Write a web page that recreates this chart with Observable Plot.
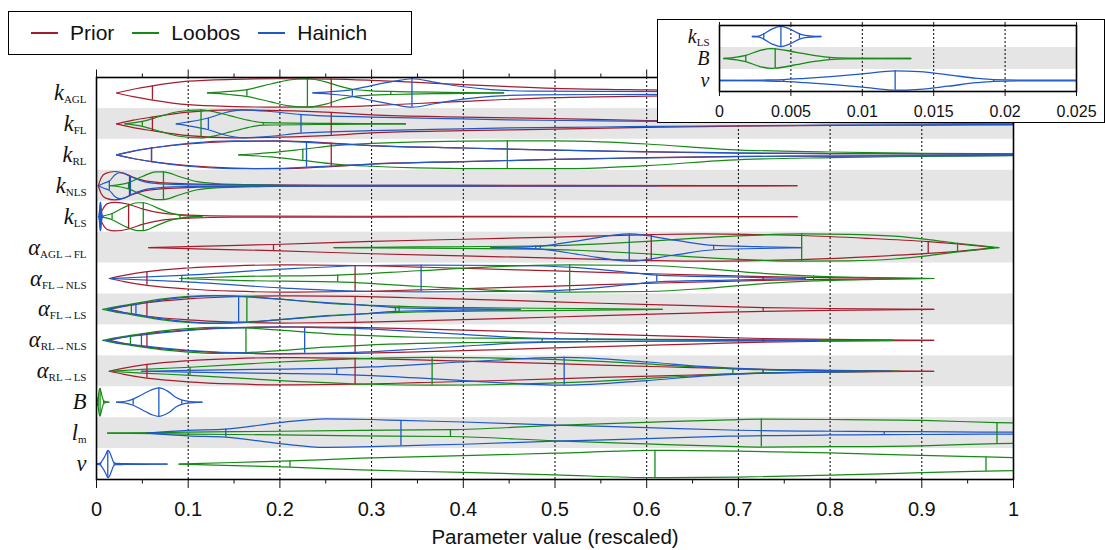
<!DOCTYPE html>
<html><head><meta charset="utf-8">
<script src="https://cdn.jsdelivr.net/npm/d3@7"></script>
<script src="https://cdn.jsdelivr.net/npm/@observablehq/plot@0.6"></script>
<style>
body{margin:0;background:#fff;}
#wrap{position:relative;width:1105px;height:550px;overflow:hidden;font-family:"Liberation Sans",Arial,sans-serif;background:#fff;}
#wrap svg{position:absolute;}
#legend{position:absolute;left:8px;top:11px;width:404px;height:44px;border:1.5px solid #000;box-sizing:border-box;background:#fff;display:flex;align-items:center;padding-left:22px;gap:18px;}
.item{display:flex;align-items:center;gap:12px;font-size:21px;color:#111;}
.swatch{width:27px;height:1.6px;}
#insetBox{position:absolute;left:657px;top:19px;width:448px;height:104px;border:1.5px solid #000;box-sizing:border-box;background:#fff;}
</style></head><body><div id="wrap"><div id="legend"></div><div id="insetBox"></div></div>
<script>
// ---------- rows / labels ----------
const rowKeys = ["kAGL","kFL","kRL","kNLS","kLS","aAGLFL","aFLNLS","aFLLS","aRLNLS","aRLLS","B","lm","v"];
const rowMain = ["k","k","k","k","k","α","α","α","α","α","B","l","v"];
const rowSub  = ["AGL","FL","RL","NLS","LS","AGL→FL","FL→NLS","FL→LS","RL→NLS","RL→LS","","m",""];
const xTicks = [0,0.1,0.2,0.3,0.4,0.5,0.6,0.7,0.8,0.9,1];
const xTickLabels = ["0","0.1","0.2","0.3","0.4","0.5","0.6","0.7","0.8","0.9","1"];
const xMinor = [0.05,0.15,0.25,0.35,0.45,0.55,0.65,0.75,0.85,0.95];
const gridTicks = [0.1,0.2,0.3,0.4,0.5,0.6,0.7,0.8,0.9];
const insetRows = ["kLS","B","v"];
const insetTicks = [0,0.005,0.01,0.015,0.02,0.025];
const insetTickLabels = ["0","0.005","0.01","0.015","0.02","0.025"];
const insetGrid = [0.005,0.01,0.015,0.02];
const insetPicks = [["Hainich","kLS"],["Loobos","B"],["Hainich","v"]];
const seriesNames = ["Prior","Loobos","Hainich"];
const seriesColors = ["#a51d2d","#158a15","#1f58c8"];
const axisTitle = "Parameter value (rescaled)";

// ---------- violin profiles: [value, half-width in row units], q = marked quantiles ----------
const priorAlphaProfile = [[0.014,0],[0.03,0.1],[0.055,0.22],[0.1,0.34],[0.15,0.41],[0.2,0.44],[0.282,0.42],[0.35,0.37],[0.45,0.29],[0.55,0.2],[0.65,0.12],[0.727,0.06],[0.8,0.03],[0.913,0]];
const prior = [
  {row:"kAGL", q:[0.061,0.256], pts:[[0.022,0],[0.04,0.12],[0.061,0.23],[0.1,0.38],[0.15,0.44],[0.2,0.46],[0.256,0.45],[0.3,0.41],[0.35,0.34],[0.4,0.27],[0.5,0.15],[0.6,0.1],[0.7,0.07],[0.8,0.05],[0.9,0.03],[1,0.02]]},
  {row:"kFL", q:[0.061,0.256], pts:[[0.022,0],[0.04,0.12],[0.061,0.22],[0.1,0.38],[0.15,0.45],[0.2,0.43],[0.256,0.37],[0.3,0.29],[0.4,0.22],[0.5,0.17],[0.6,0.11],[0.7,0.07],[0.8,0.05],[0.9,0.04],[1,0.03]]},
  {row:"kRL", q:[0.06,0.256], pts:[[0.022,0],[0.04,0.12],[0.06,0.22],[0.1,0.35],[0.15,0.43],[0.2,0.45],[0.256,0.38],[0.3,0.3],[0.4,0.22],[0.5,0.15],[0.6,0.09],[0.7,0.05],[0.8,0.04],[0.9,0.03],[1,0.02]]},
  {row:"kNLS", q:[0.036], pts:[[0.002,0],[0.005,0.25],[0.01,0.4],[0.02,0.46],[0.03,0.4],[0.038,0.3],[0.05,0.18],[0.07,0.1],[0.1,0.06],[0.15,0.03],[0.25,0.015],[0.5,0.01],[0.764,0]]},
  {row:"kLS", q:[0.035], pts:[[0.003,0],[0.006,0.2],[0.012,0.42],[0.02,0.46],[0.035,0.4],[0.05,0.25],[0.07,0.12],[0.1,0.05],[0.15,0.02],[0.4,0.01],[0.764,0]]},
  {row:"aAGLFL", q:[0.193,0.605,0.907], pts:[[0.057,0],[0.12,0.05],[0.193,0.1],[0.3,0.2],[0.4,0.27],[0.5,0.34],[0.605,0.42],[0.66,0.44],[0.72,0.42],[0.769,0.39],[0.84,0.3],[0.907,0.19],[0.95,0.09],[0.978,0]]},
  {row:"aFLNLS", q:[0.055,0.282,0.727], pts:priorAlphaProfile},
  {row:"aFLLS", q:[0.055,0.282,0.727], pts:priorAlphaProfile},
  {row:"aRLNLS", q:[0.055,0.282,0.727], pts:priorAlphaProfile},
  {row:"aRLLS", q:[0.055,0.282,0.727], pts:priorAlphaProfile}
];
const loobos = [
  {row:"kAGL", q:[0.164,0.23,0.321], pts:[[0.121,0],[0.145,0.05],[0.164,0.11],[0.19,0.29],[0.21,0.42],[0.23,0.46],[0.25,0.36],[0.265,0.22],[0.279,0.12],[0.3,0.07],[0.321,0.05],[0.38,0.02],[0.444,0]]},
  {row:"kFL", q:[0.05,0.114,0.182], pts:[[0.031,0],[0.05,0.08],[0.07,0.25],[0.09,0.4],[0.114,0.45],[0.13,0.38],[0.146,0.26],[0.165,0.12],[0.182,0.04],[0.26,0.015],[0.337,0]]},
  {row:"kRL", q:[0.225,0.448], pts:[[0.155,0],[0.19,0.07],[0.225,0.18],[0.26,0.3],[0.3,0.37],[0.35,0.42],[0.448,0.45],[0.5,0.45],[0.55,0.42],[0.6,0.35],[0.69,0.17],[0.8,0.09],[0.9,0.05],[1,0.03]]},
  {row:"kNLS", q:[0.035,0.073], pts:[[0.015,0],[0.035,0.1],[0.05,0.3],[0.065,0.45],[0.073,0.45],[0.09,0.3],[0.11,0.13],[0.13,0.07],[0.16,0.04],[0.222,0]]},
  {row:"kLS", q:[0.017,0.051,0.091], pts:[[0.004,0],[0.017,0.1],[0.03,0.3],[0.045,0.45],[0.051,0.45],[0.065,0.3],[0.08,0.12],[0.091,0.05],[0.115,0]]},
  {row:"aAGLFL", q:[0.479,0.769,0.939], pts:[[0.259,0],[0.35,0.02],[0.479,0.05],[0.55,0.12],[0.6,0.2],[0.65,0.3],[0.7,0.38],[0.769,0.44],[0.82,0.43],[0.87,0.37],[0.91,0.25],[0.939,0.14],[0.965,0.06],[0.984,0]]},
  {row:"aFLNLS", q:[0.263,0.516,0.782], pts:[[0.091,0],[0.15,0.06],[0.263,0.11],[0.35,0.25],[0.45,0.4],[0.516,0.44],[0.6,0.42],[0.66,0.33],[0.72,0.18],[0.782,0.08],[0.85,0.03],[0.913,0]]},
  {row:"aFLLS", q:[0.038,0.164,0.33], pts:[[0.007,0],[0.02,0.08],[0.038,0.17],[0.07,0.33],[0.1,0.42],[0.13,0.45],[0.164,0.42],[0.2,0.33],[0.25,0.2],[0.3,0.13],[0.35,0.08],[0.43,0.05],[0.52,0.03],[0.617,0]]},
  {row:"aRLNLS", q:[0.037,0.163,0.486], pts:[[0.007,0],[0.02,0.08],[0.037,0.16],[0.07,0.3],[0.1,0.38],[0.13,0.42],[0.163,0.4],[0.2,0.33],[0.25,0.22],[0.29,0.16],[0.35,0.1],[0.42,0.07],[0.486,0.05],[0.6,0.03],[0.75,0.015],[0.869,0]]},
  {row:"aRLLS", q:[0.102,0.366,0.694], pts:[[0.014,0],[0.05,0.06],[0.102,0.13],[0.2,0.3],[0.3,0.42],[0.366,0.45],[0.45,0.42],[0.55,0.32],[0.62,0.2],[0.66,0.13],[0.694,0.08],[0.78,0.03],[0.876,0]]},
  {row:"B", q:[0.00184,0.0039,0.0077], pts:[[0.0003,0],[0.0012,0.06],[0.00184,0.14],[0.0028,0.36],[0.0036,0.45],[0.0039,0.44],[0.005,0.33],[0.0057,0.24],[0.0068,0.12],[0.0077,0.05],[0.009,0.02],[0.0134,0]]},
  {row:"lm", q:[0.386,0.725,0.982], pts:[[0.012,0],[0.1,0.03],[0.2,0.06],[0.288,0.09],[0.386,0.11],[0.5,0.25],[0.6,0.35],[0.69,0.43],[0.725,0.45],[0.8,0.44],[0.9,0.41],[0.982,0.34],[1,0.33]]},
  {row:"v", q:[0.211,0.609,0.97], pts:[[0.09,0],[0.15,0.05],[0.211,0.1],[0.288,0.19],[0.4,0.27],[0.5,0.35],[0.609,0.44],[0.7,0.42],[0.8,0.36],[0.9,0.28],[0.97,0.23],[1,0.21]]}
];
const hainich = [
  {row:"kAGL", q:[0.279,0.344], pts:[[0.236,0],[0.26,0.05],[0.279,0.11],[0.3,0.24],[0.325,0.38],[0.344,0.46],[0.37,0.34],[0.4,0.2],[0.43,0.11],[0.476,0.06],[0.55,0.05],[0.7,0.04],[0.85,0.03],[1,0.02]]},
  {row:"kFL", q:[0.122,0.223], pts:[[0.087,0],[0.1,0.06],[0.122,0.19],[0.14,0.36],[0.16,0.45],[0.19,0.4],[0.223,0.3],[0.3,0.22],[0.367,0.18],[0.45,0.13],[0.55,0.1],[0.615,0.08],[0.7,0.06],[0.8,0.04],[0.9,0.03],[1,0.02]]},
  {row:"kRL", q:[0.06,0.229], pts:[[0.022,0],[0.04,0.12],[0.06,0.22],[0.1,0.37],[0.15,0.45],[0.2,0.44],[0.229,0.4],[0.3,0.3],[0.4,0.22],[0.5,0.15],[0.6,0.1],[0.7,0.06],[0.8,0.04],[0.9,0.03],[1,0.02]]},
  {row:"kNLS", q:[0.014,0.037], pts:[[0.002,0],[0.008,0.08],[0.014,0.15],[0.02,0.35],[0.025,0.42],[0.03,0.4],[0.037,0.3],[0.05,0.15],[0.07,0.06],[0.1,0.03],[0.2,0.015],[0.4,0.01],[0.612,0]]},
  {row:"kLS", q:[0.0031,0.0043,0.0056], pts:[[0.0023,0],[0.0028,0.03],[0.0031,0.12],[0.0037,0.35],[0.0043,0.46],[0.0049,0.35],[0.0056,0.12],[0.006,0.05],[0.0071,0]]},
  {row:"aAGLFL", q:[0.484,0.581,0.673], pts:[[0.43,0],[0.484,0.05],[0.53,0.24],[0.581,0.44],[0.63,0.24],[0.673,0.07],[0.72,0.03],[0.769,0]]},
  {row:"aFLNLS", q:[0.093,0.354,0.611], pts:[[0.015,0],[0.093,0.1],[0.2,0.3],[0.3,0.42],[0.354,0.43],[0.45,0.42],[0.52,0.36],[0.58,0.2],[0.611,0.11],[0.69,0.05],[0.773,0]]},
  {row:"aFLLS", q:[0.043,0.155,0.326], pts:[[0.012,0],[0.025,0.08],[0.043,0.16],[0.07,0.3],[0.1,0.4],[0.13,0.44],[0.155,0.42],[0.2,0.33],[0.25,0.22],[0.288,0.15],[0.326,0.06],[0.4,0.02],[0.462,0]]},
  {row:"aRLNLS", q:[0.049,0.227,0.535], pts:[[0.011,0],[0.025,0.08],[0.049,0.17],[0.1,0.32],[0.15,0.4],[0.2,0.43],[0.227,0.42],[0.288,0.38],[0.35,0.28],[0.4,0.19],[0.45,0.1],[0.535,0.04],[0.65,0.02],[0.787,0]]},
  {row:"aRLLS", q:[0.262,0.51,0.727], pts:[[0.049,0],[0.1,0.03],[0.2,0.07],[0.262,0.1],[0.3,0.14],[0.4,0.3],[0.51,0.45],[0.6,0.3],[0.66,0.16],[0.727,0.06],[0.8,0.02],[0.867,0]]},
  {row:"B", q:[0.04,0.068,0.093], pts:[[0.022,0],[0.032,0.03],[0.04,0.1],[0.05,0.25],[0.06,0.4],[0.068,0.46],[0.078,0.35],[0.087,0.15],[0.093,0.07],[0.1,0.03],[0.115,0]]},
  {row:"lm", q:[0.141,0.332,0.859], pts:[[0.055,0],[0.1,0.09],[0.141,0.13],[0.2,0.34],[0.25,0.46],[0.3,0.44],[0.332,0.41],[0.4,0.36],[0.5,0.26],[0.6,0.18],[0.69,0.1],[0.8,0.06],[0.859,0.05],[0.93,0.04],[1,0.03]]},
  {row:"v", q:[0.0045,0.0123,0.0192], pts:[[0,0],[0.003,0.02],[0.0045,0.04],[0.006,0.1],[0.008,0.19],[0.01,0.3],[0.0123,0.44],[0.014,0.4],[0.016,0.26],[0.018,0.1],[0.0192,0.04],[0.021,0.02],[0.03,0.015],[0.05,0.01],[0.077,0]]}
];

// ---------- build mark data ----------
const allSeries = {Prior: prior, Loobos: loobos, Hainich: hainich};
function hwAt(pts, x) {
  if (x <= pts[0][0]) return pts[0][1];
  for (let i = 1; i < pts.length; i++) {
    if (x <= pts[i][0]) {
      const [x0, h0] = pts[i-1], [x1, h1] = pts[i];
      return h0 + (h1 - h0) * (x - x0) / (x1 - x0);
    }
  }
  return pts[pts.length-1][1];
}
function build(picks, rows) {
  const lines = [], ticks = [];
  picks.forEach(([s, v]) => {
    const r = rows.indexOf(v.row);
    if (r < 0) return;
    v.pts.forEach(([x, h]) => {
      lines.push({id: s + v.row + "t", series: s, x, y: r - h});
      lines.push({id: s + v.row + "b", series: s, x, y: r + h});
    });
    v.q.forEach(x => { const h = hwAt(v.pts, x); ticks.push({series: s, x, y1: r - h, y2: r + h}); });
  });
  lines.sort((a, b) => seriesNames.indexOf(a.series) - seriesNames.indexOf(b.series));
  return {lines, ticks};
}
const mainPicks = [];
seriesNames.forEach(s => allSeries[s].forEach(v => mainPicks.push([s, v])));
const mainData = build(mainPicks, rowKeys);
const insetData = build(insetPicks.map(([s, r]) => [s, allSeries[s].find(v => v.row === r)]), insetRows);

function styleLabels(svg, keys, mainSize, subSize) {
  d3.select(svg).selectAll("text").each(function() {
    const key = this.textContent;
    const i = rowKeys.indexOf(key);
    if (i < 0 || !keys.includes(key)) return;
    const t = d3.select(this);
    t.text("").attr("font-family", "'Liberation Serif','DejaVu Serif',serif");
    t.append("tspan").attr("font-style", "italic").attr("font-size", mainSize).text(rowMain[i]);
    if (rowSub[i]) t.append("tspan").attr("font-size", subSize).attr("dy", 3).text(rowSub[i]);
  });
}

// ---------- main plot ----------
const color = {domain: seriesNames, range: seriesColors};
const bandRows = rowKeys.map((_, i) => i).filter(i => i % 2 === 1);
const main = Plot.plot({
  width: 1105, height: 550,
  marginLeft: 96, marginRight: 92, marginTop: 77, marginBottom: 71,
  style: {background: "transparent", fontFamily: "'Liberation Sans',Arial,sans-serif", color: "#111"},
  x: {domain: [0, 1], axis: null, label: null},
  y: {domain: [12.5, -0.5], axis: null, label: null},
  color,
  marks: [
    Plot.rect(bandRows, {x1: () => 0, x2: () => 1, y1: d => d - 0.5, y2: d => d + 0.5, fill: "#e5e5e5"}),
    Plot.ruleX(gridTicks, {x: d => d, stroke: "#000", strokeDasharray: "2,2", strokeWidth: 1}),
    Plot.line(mainData.lines, {x: "x", y: "y", z: "id", stroke: "series", curve: "monotone-x", strokeWidth: 1.2, clip: true}),
    Plot.ruleX(mainData.ticks, {x: "x", y1: "y1", y2: "y2", stroke: "series", strokeWidth: 1.3}),
    Plot.frame({stroke: "#000", strokeWidth: 1.6}),
    Plot.axisX({anchor: "bottom", ticks: xTicks, tickSize: 9, tickPadding: 13, fontSize: 20, tickFormat: d => xTickLabels[xTicks.indexOf(d)]}),
    Plot.axisX({anchor: "bottom", ticks: xMinor, tickSize: 4.5, tickFormat: () => ""}),
    Plot.axisX({anchor: "top", ticks: xTicks, tickSize: 8.5, tickFormat: () => ""}),
    Plot.axisX({anchor: "top", ticks: xMinor, tickSize: 4.5, tickFormat: () => ""}),
    Plot.axisY({ticks: rowKeys.map((_, i) => i), tickFormat: i => rowKeys[i], tickSize: 0, tickPadding: 10, fontSize: 22}),
    Plot.text([axisTitle], {text: d => d, frameAnchor: "bottom", lineAnchor: "middle", dy: 58, fontSize: 20.5})
  ]
});
styleLabels(main, rowKeys, 22.5, 11);
main.style.left = "0px"; main.style.top = "0px";
const wrap = document.getElementById("wrap");
wrap.insertBefore(main, wrap.firstChild);

// ---------- legend ----------
const legend = d3.select("#legend");
seriesNames.forEach((s, i) => {
  const it = legend.append("div").attr("class", "item");
  it.append("div").attr("class", "swatch").style("background", seriesColors[i]);
  it.append("span").text(s);
});

// ---------- inset ----------
const inset = Plot.plot({
  width: 448, height: 104,
  marginLeft: 62, marginRight: 29, marginTop: 6, marginBottom: 32,
  style: {background: "transparent", fontFamily: "'Liberation Sans',Arial,sans-serif", color: "#111"},
  x: {domain: [0, 0.025], axis: null, label: null},
  y: {domain: [2.5, -0.5], axis: null, label: null},
  color,
  marks: [
    Plot.rect([1], {x1: () => 0, x2: () => 0.025, y1: d => d - 0.5, y2: d => d + 0.5, fill: "#e5e5e5"}),
    Plot.ruleX(insetGrid, {x: d => d, stroke: "#000", strokeDasharray: "2,2", strokeWidth: 1}),
    Plot.line(insetData.lines, {x: "x", y: "y", z: "id", stroke: "series", curve: "monotone-x", strokeWidth: 1.3, clip: true}),
    Plot.ruleX(insetData.ticks, {x: "x", y1: "y1", y2: "y2", stroke: "series", strokeWidth: 1.3}),
    Plot.frame({stroke: "#000", strokeWidth: 1.6}),
    Plot.axisX({anchor: "bottom", ticks: insetTicks, tickSize: 5, tickPadding: 9, fontSize: 16, tickFormat: d => insetTickLabels[insetTicks.indexOf(d)]}),
    Plot.axisX({anchor: "top", ticks: insetTicks, tickSize: 4, tickFormat: () => ""}),
    Plot.axisY({ticks: [0, 1, 2], tickFormat: i => insetRows[i], tickSize: 0, tickPadding: 10, fontSize: 20})
  ]
});
styleLabels(inset, insetRows, 20, 11);
inset.style.left = "657px"; inset.style.top = "19px";
wrap.appendChild(inset);
</script></body></html>
